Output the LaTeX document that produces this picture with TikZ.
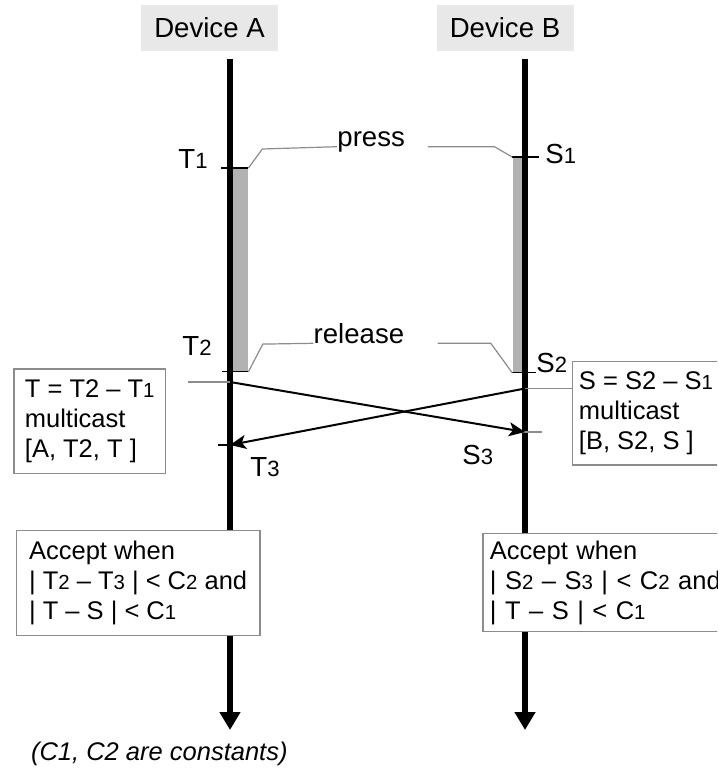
\documentclass[tikz,border=0pt]{standalone}
\usepackage{fontspec}
\setmainfont{Liberation Sans}
\usetikzlibrary{arrows.meta,positioning}

\newcommand{\lo}[1]{\scalebox{0.8}{#1}}

\begin{document}
\begin{tikzpicture}[
    x=0.5pt, y=-0.5pt,
    device/.style={rectangle, fill=black!9, minimum width=68.5pt, minimum height=23pt, inner sep=0pt, font=\fontsize{13.8}{16}\selectfont},
    lifeline/.style={line width=3pt, -{Triangle[length=9pt, width=10pt]}},
    holdbar/.style={rectangle, fill=black!30, inner sep=0pt},
    tlabel/.style={inner sep=0pt, anchor=base west, font=\fontsize{13.8}{16}\selectfont},
    event/.style={inner sep=0pt, anchor=base west, align=left, font=\fontsize{13.8}{16}\selectfont},
    tickline/.style={line width=0.6pt},
    leadline/.style={draw=black!45, line width=0.6pt},
    msg/.style={line width=1pt, -{Stealth[length=8pt, width=7pt, inset=2pt]}},
    note/.style={rectangle, draw=black!45, line width=0.6pt, fill=white, anchor=north west, align=left, inner ysep=0pt, font=\fontsize{12.75}{15}\selectfont}
]
    \path[use as bounding box] (0,0) rectangle (717,769);
    \clip (0,0) rectangle (717,769);

    % Devices and their time lines
    \node (devA) [device] at (209.5,28) {Device A};
    \node (devB) [device] at (505,28) {Device B};
    \coordinate (topA) at (230,59);
    \coordinate (endA) at (230,730);
    \coordinate (topB) at (525,59);
    \coordinate (endB) at (525,730);

    % Button held down
    \node (barA) [holdbar, anchor=north west, minimum width=7.3pt, minimum height=101.5pt] at (233,168) {};
    \node (barB) [holdbar, anchor=north east, minimum width=6pt, minimum height=107.5pt] at (525,157) {};

    \draw [lifeline] (topA) -- (endA);
    \draw [lifeline] (topB) -- (endB);

    % Events
    \node (press) [event, text width=45pt] at (337,146.7) {press};
    \node (release) [event, text width=61.7pt] at (313.3,343.3) {release};

    \node (t1) [tlabel] at (178,169) {T\lo{1}};
    \node (s1) [tlabel] at (545,164) {S\lo{1}};
    \node (t2) [tlabel] at (182,356) {T\lo{2}};
    \node (s2) [tlabel] at (536,372) {S\lo{2}};
    \node (t3) [tlabel] at (250,476) {T\lo{3}};
    \node (s3) [tlabel] at (462,464) {S\lo{3}};

    \draw [tickline] (barA.north east) -- ++(-27,0);
    \draw [tickline] (barB.north west) -- ++(27,0);
    \draw [tickline] (barA.south east) -- ++(-26,0);
    \draw [tickline] (barB.south west) -- ++(24,0);

    \draw [leadline] (barA.north east) -- ++(14,-19) -- (press.base west);
    \draw [leadline] (press.base east) -- ++(66.6,0) -- (barB.north west);
    \draw [leadline] (barA.south east) -- ++(14.4,-27.7) -- (release.base west);
    \draw [leadline] (release.base east) -- ++(53.3,0) -- (barB.south west);

    % Multicast messages
    \coordinate (a2) at (230,382);
    \coordinate (b2) at (525,388.5);
    \coordinate (a3) at (230,445);
    \coordinate (b3) at (525,432);

    \node (noteT) [note, minimum width=75.85pt, minimum height=52.2pt] at (13.3,368.3) {T = T2 – T\lo{1}\\multicast\\{}[A, T2, T ]};
    \node (noteS) [note, minimum width=72.5pt, minimum height=51.65pt] at (571.7,361) {S = S2 – S\lo{1}\\multicast\\{}[B, S2, S ]};

    \draw [leadline] (a2) -- ++(-42,0);
    \draw [leadline] (b2) -- (noteS.west |- b2);
    \draw [tickline] (a3) -- ++(-12,0);
    \draw [leadline] ([xshift=-6pt]b3) -- ([xshift=8.5pt]b3);

    \draw [msg] (a2) -- (b3);
    \draw [msg] (b2) -- (a3);

    % Acceptance test
    \node (acceptA) [note, minimum width=121.8pt, minimum height=52.5pt] at (15.7,530) {Accept when\\| T\lo{2} – T\lo{3} | < C\lo{2} and\\| T – S | < C\lo{1}};
    \node (acceptB) [note, text width=120pt, inner xsep=3.5pt, minimum height=49pt] at (482.3,533) {Accept when\\| S\lo{2} – S\lo{3} | < C\lo{2} and\\| T – S | < C\lo{1}};

    \node (footnote) [inner sep=0pt, anchor=base east, font=\fontsize{12.75}{15}\selectfont\itshape] at (288,760) {(C1, C2 are constants)};
\end{tikzpicture}
\end{document}
